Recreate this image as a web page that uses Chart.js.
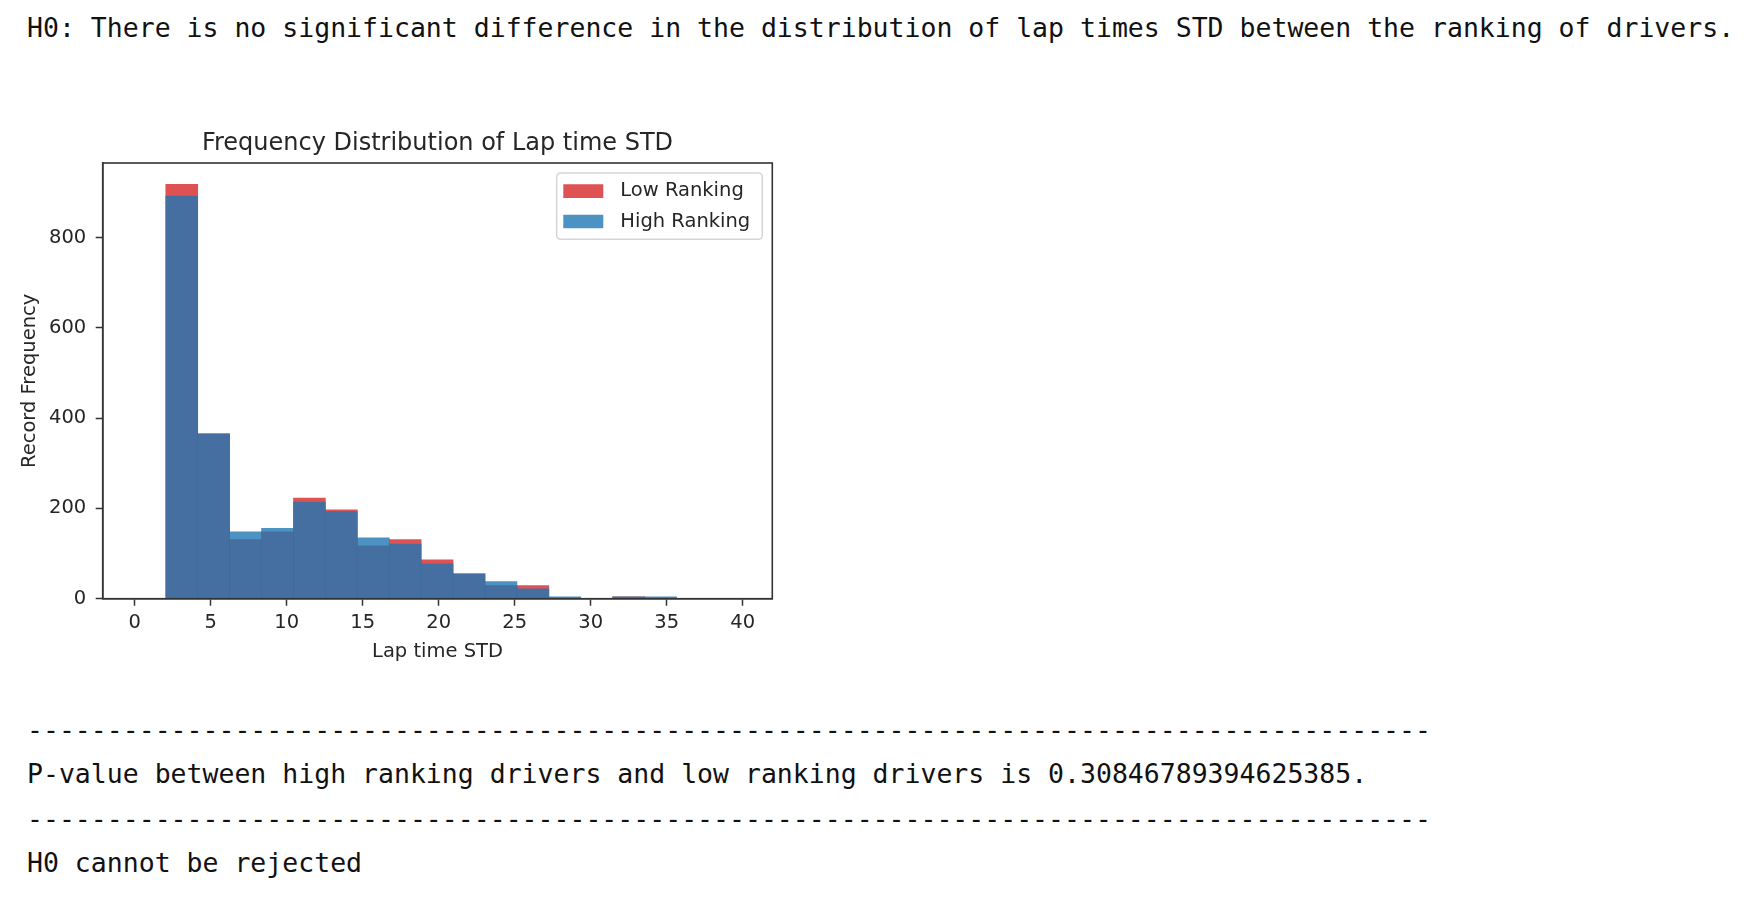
<!DOCTYPE html>
<html>
<head>
<meta charset="utf-8">
<title>Frequency Distribution of Lap time STD</title>
<script src="https://cdn.jsdelivr.net/npm/chart.js@4.4.1/dist/chart.umd.min.js"></script>
<style>
  html, body { margin: 0; padding: 0; background: #fff; }
  body { width: 1756px; height: 898px; position: relative; overflow: hidden; }
  .out {
    position: absolute; left: 27px; margin: 0;
    font-family: 'DejaVu Sans Mono', monospace; font-size: 26.5px; line-height: 44.5px;
    color: #111; white-space: pre;
  }
  #chartBox { position: absolute; left: 0; top: 120px; width: 875px; height: 560px; }
</style>
</head>
<body>
<pre class="out" style="top:5.9px">H0: There is no significant difference in the distribution of lap times STD between the ranking of drivers.</pre>
<div id="chartBox"><canvas id="histChart" width="875" height="560"></canvas></div>
<pre class="out" id="summary" style="top:707.6px"></pre>

<script>
// histogram bins (shared by both groups) and counts
var binEdges = [-0.05, 2.05, 4.15, 6.25, 8.35, 10.45, 12.55, 14.65, 16.75, 18.85, 20.95,
  23.05, 25.15, 27.25, 29.35, 31.45, 33.55, 35.65, 37.75, 39.85];
var lowRanking = [0, 918, 365, 131, 148, 223, 197, 117, 131, 86, 55, 29, 29, 1, 0, 4, 1, 0, 0];
var highRanking = [0, 892, 365, 148, 156, 214, 193, 135, 121, 77, 55, 38, 22, 4, 0, 4, 4, 0, 0];
var seriesLabels = ['Low Ranking', 'High Ranking'];
var xTickValues = [0, 5, 10, 15, 20, 25, 30, 35, 40];
var yTickValues = [0, 200, 400, 600, 800];
var xRange = [-2.1, 41.95];
var yRange = [0, 965];
var pValue = '0.30846789394625385';

(function () {
  var dashes = new Array(89).join('-');
  document.getElementById('summary').textContent =
    dashes + '\n' +
    'P-value between high ranking drivers and low ranking drivers is ' + pValue + '.\n' +
    dashes + '\n' +
    'H0 cannot be rejected';

  function toPoints(counts) {
    return counts.map(function (c, i) {
      return { x: (binEdges[i] + binEdges[i + 1]) / 2, y: c };
    });
  }

  function fixedTicks(values) {
    return function (scale) {
      scale.ticks = values.map(function (v) { return { value: v }; });
    };
  }

  var FONT = "'DejaVu Sans', sans-serif";
  var INK = '#262626';
  var SPINE = '#333';
  var SIDE = 102.7; // room left of the axes; mirrored on the right so the title centres over the plot

  // legend look (matplotlib style): patch 40 x 13.7, 17px gap to text
  var LEG_FONT = 19.5;
  var PATCH_W = 40, PATCH_H = 13.7, PATCH_GAP = 17;
  var EDGE = 2 * (PATCH_GAP - LEG_FONT / 2); // white edge trims the box to the patch size
  var ROW_STEP = 30.3;
  var FRAME = { inset: 10, w: 205.6, h: 66.3 };

  var framePlugin = {
    id: 'mplFrame',
    afterLayout: function (chart) {
      var lg = chart.legend;
      var ca = chart.chartArea;
      var pad = lg.options.labels.padding;
      var fx = ca.right - FRAME.inset - FRAME.w;
      var fy = ca.top + FRAME.inset;
      lg.left = fx + 6.6 - EDGE / 2 - pad;
      lg.top = fy + 18.2 - (PATCH_H + EDGE) / 2 - pad;
      lg.right = lg.left + FRAME.w;
      lg.bottom = lg.top + 300;
      chart.$frame = { x: fx, y: fy, w: FRAME.w, h: FRAME.h };
    },
    beforeDraw: function (chart) {
      var f = chart.$frame;
      if (!f) return;
      var ctx = chart.ctx;
      ctx.save();
      ctx.beginPath();
      ctx.roundRect(f.x, f.y, f.w, f.h, 4);
      ctx.fillStyle = 'rgba(255,255,255,0.8)';
      ctx.fill();
      ctx.restore();
    },
    afterDatasetsDraw: function (chart) {
      var ca = chart.chartArea;
      var ctx = chart.ctx;
      ctx.save();
      ctx.lineWidth = 1.6;
      ctx.strokeStyle = SPINE;
      ctx.strokeRect(ca.left, ca.top, ca.right - ca.left, ca.bottom - ca.top);
      ctx.restore();
    },
    afterDraw: function (chart) {
      var f = chart.$frame;
      if (!f) return;
      var ctx = chart.ctx;
      ctx.save();
      ctx.beginPath();
      ctx.roundRect(f.x, f.y, f.w, f.h, 4);
      ctx.lineWidth = 1.6;
      ctx.strokeStyle = 'rgba(204,204,204,0.8)';
      ctx.stroke();
      ctx.restore();
    }
  };

  new Chart(document.getElementById('histChart'), {
    type: 'bar',
    data: {
      datasets: [{
        label: seriesLabels[1],
        data: toPoints(highRanking),
        backgroundColor: 'rgba(31,119,180,0.8)',
        borderWidth: 0,
        grouped: false,
        barPercentage: 1,
        categoryPercentage: 1
      }, {
        label: seriesLabels[0],
        data: toPoints(lowRanking),
        backgroundColor: 'rgba(214,39,40,0.8)',
        borderWidth: 0,
        grouped: false,
        barPercentage: 1,
        categoryPercentage: 1
      }]
    },
    options: {
      responsive: false,
      animation: false,
      devicePixelRatio: 1,
      layout: { padding: 0 },
      plugins: {
        title: {
          display: true,
          text: 'Frequency Distribution of Lap time STD',
          color: INK,
          font: { family: FONT, size: 24, weight: 'normal' },
          padding: { top: 9.8, bottom: 4.4 }
        },
        legend: {
          position: 'chartArea',
          align: 'start',
          reverse: true,
          labels: {
            color: INK,
            font: { family: FONT, size: LEG_FONT },
            boxWidth: PATCH_W + EDGE,
            boxHeight: PATCH_H + EDGE,
            padding: ROW_STEP - (PATCH_H + EDGE),
            generateLabels: function (chart) {
              var items = Chart.defaults.plugins.legend.labels.generateLabels(chart);
              items.forEach(function (it) {
                it.lineWidth = EDGE;
                it.strokeStyle = '#fff';
              });
              return items;
            }
          }
        },
        tooltip: { enabled: false }
      },
      scales: {
        x: {
          type: 'linear',
          min: xRange[0],
          max: xRange[1],
          offset: false,
          afterBuildTicks: fixedTicks(xTickValues),
          afterFit: function (scale) { scale.height = 81.3; },
          ticks: {
            color: INK,
            font: { family: FONT, size: 19.5 },
            padding: 5.6,
            maxRotation: 0,
            autoSkip: false
          },
          grid: { offset: false, drawOnChartArea: false, tickLength: 7, tickColor: SPINE, tickWidth: 1.5 },
          border: { display: true, color: SPINE, width: 1.6 },
          title: {
            display: true,
            text: 'Lap time STD',
            color: INK,
            font: { family: FONT, size: 19.5 },
            padding: { top: 0, bottom: 16.8 }
          }
        },
        y: {
          min: yRange[0],
          max: yRange[1],
          afterBuildTicks: fixedTicks(yTickValues),
          afterFit: function (scale) { scale.width = SIDE; },
          ticks: {
            color: INK,
            font: { family: FONT, size: 19.5 },
            padding: 9.5,
            autoSkip: false
          },
          grid: { drawOnChartArea: false, tickLength: 7, tickColor: SPINE, tickWidth: 1.5 },
          border: { display: true, color: SPINE, width: 1.6 },
          title: {
            display: true,
            text: 'Record Frequency',
            color: INK,
            font: { family: FONT, size: 19.5 },
            padding: { top: 18.3, bottom: 0 }
          }
        },
        spacer: {
          type: 'linear',
          position: 'right',
          display: true,
          afterFit: function (scale) { scale.width = SIDE; },
          ticks: { display: false },
          grid: { display: false },
          border: { display: false }
        }
      }
    },
    plugins: [framePlugin]
  });
})();
</script>
</body>
</html>
